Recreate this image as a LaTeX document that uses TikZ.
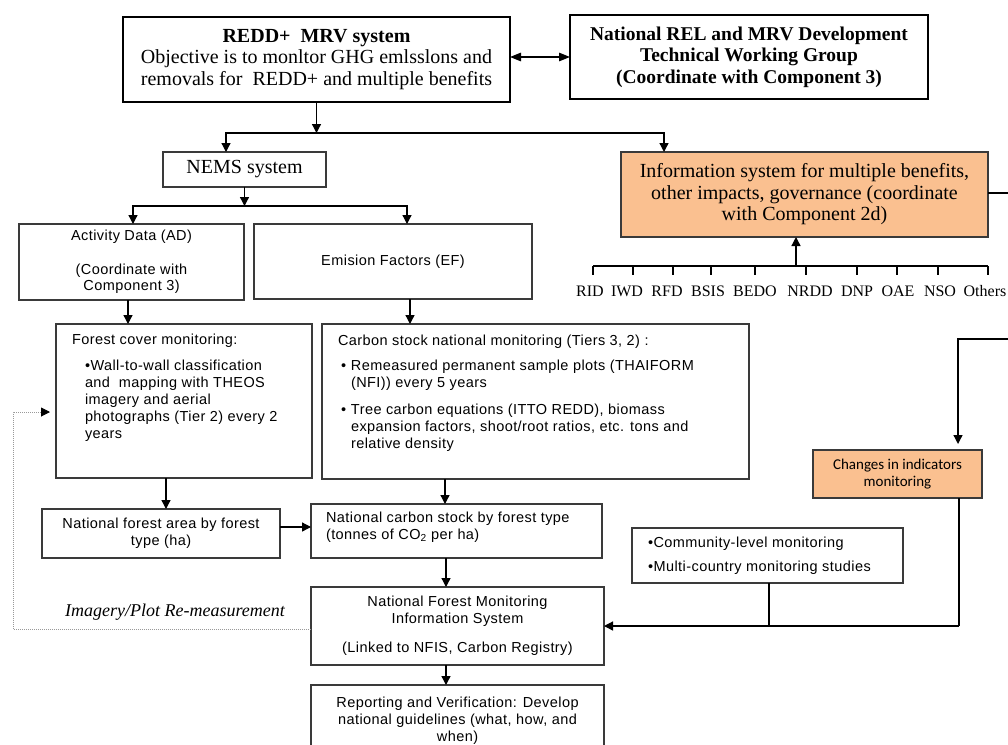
\documentclass[tikz,border=0pt]{standalone}
\usepackage{fontspec}
\setmainfont{Liberation Serif}
\newfontfamily\arialf[LetterSpace=3]{Liberation Sans}
\newfontfamily\calf{Carlito}
\usetikzlibrary{arrows.meta}
\definecolor{peach}{HTML}{FAC090}
\definecolor{edge}{HTML}{3A3A3A}

\begin{document}
\begin{tikzpicture}[x=1pt,y=-1pt,
  every node/.style={inner sep=0pt, outer sep=0pt},
  serif/.style={font=\fontsize{20}{21.5}\selectfont},
  seriflab/.style={font=\fontsize{16}{18}\selectfont},
  sans/.style={font=\arialf\fontsize{14.5}{16.8}\selectfont},
  bigbox/.style={draw=black, line width=2.6pt, fill=white},
  box/.style={draw=edge, line width=1.4pt, fill=white},
  hibox/.style={draw=edge, line width=1.4pt, fill=peach},
  arr/.style={draw=black, line width=1.3pt, -{Triangle[length=9pt,width=9pt]}},
  dblarr/.style={draw=black, line width=1.3pt, {Triangle[length=11pt,width=8.5pt]}-{Triangle[length=11pt,width=8.5pt]}},
  conn/.style={draw=black, line width=1.3pt},
  dots/.style={draw=gray!80, line width=1pt, densely dotted, -{Triangle[length=9pt,width=9pt,color=black]}}
]
\useasboundingbox (0,0) rectangle (1008,744);
\clip (0,0) rectangle (1008,744);
\fill[white] (0,0) rectangle (1008,744);

% ---------- top row ----------
\node[bigbox, serif, align=center, minimum width=387pt, minimum height=85pt] (redd) at (316.5,59.5)
  {\textbf{REDD+\ \ MRV system}\\Objective is to monltor GHG emlsslons and\\removals for\ \ REDD+ and multiple benefits};
\node[bigbox, serif, font=\bfseries\fontsize{19.5}{21.5}\selectfont, align=center, minimum width=358pt, minimum height=84pt] (rel) at (749,57)
  {National REL and MRV Development\\Technical Working Group\\(Coordinate with Component 3)};

% ---------- second row ----------
\node[box, serif, minimum width=163pt, minimum height=35pt] (nems) at (244.5,169.5) {NEMS system};
\node[hibox, serif, align=center, minimum width=367pt, minimum height=85pt] (info) at (804.5,194.5)
  {Information system for multiple benefits,\\other impacts, governance (coordinate\\with Component 2d)};

% ---------- AD / EF ----------
\node[box, sans, align=center, minimum width=225pt, minimum height=76pt] (ad) at (131.5,262)
  {Activity Data (AD)\\[16.8pt](Coordinate with\\Component 3)};
\node[box, sans, minimum width=278pt, minimum height=75pt] (ef) at (393,261.5) {Emision Factors (EF)};

% ---------- monitoring boxes ----------
\node[box, minimum width=256pt, minimum height=154pt] (fcm) at (184,401) {};
\node[sans, align=left, anchor=north west] (fcmt) at (72,333.5)
  {Forest cover monitoring:\\[10pt]
   \hspace*{13pt}•Wall-to-wall classification\\
   \hspace*{13pt}and\ \ mapping with THEOS\\
   \hspace*{13pt}imagery and aerial\\
   \hspace*{13pt}photographs (Tier 2) every 2\\
   \hspace*{13pt}years};
\node[box, minimum width=427pt, minimum height=155pt] (csm) at (535.5,401.5) {};
\node[sans, align=left, anchor=north west] (csmt) at (338,334.5)
  {Carbon stock national monitoring (Tiers 3, 2) :\\[9pt]
   \hspace*{3pt}\makebox[10pt][l]{•}Remeasured permanent sample plots (THAIFORM\\
   \hspace*{13pt}(NFI)) every 5 years\\[10pt]
   \hspace*{3pt}\makebox[10pt][l]{•}Tree carbon equations (ITTO REDD), biomass\\
   \hspace*{13pt}expansion factors, shoot/root ratios, etc. tons and\\
   \hspace*{13pt}relative density};

% ---------- national results ----------
\node[box, sans, align=center, minimum width=238pt, minimum height=49pt] (nfa) at (161,533.5)
  {National forest area by forest\\type (ha)};
\node[box, minimum width=291pt, minimum height=54pt] (ncs) at (456.5,531) {};
\node[sans, align=left, anchor=north west] (ncst) at (326,512)
  {National carbon stock by forest type\\(tonnes of CO\textsubscript{2} per ha)};
\node[box, sans, align=center, minimum width=293pt, minimum height=78pt] (nfmis) at (457.5,626)
  {National Forest Monitoring\\Information System\\[12pt](Linked to NFIS, Carbon Registry)};
\node[box, minimum width=293pt, minimum height=80pt] (rep) at (457.5,725) {};
\node[sans, align=center, anchor=north] (rept) at (457.5,697)
  {Reporting and Verification: Develop\\national guidelines (what, how, and\\when)};

% ---------- right column ----------
\node[hibox, align=center, font=\calf\fontsize{15}{17}\selectfont, minimum width=169pt, minimum height=48pt] (chg) at (897.5,474)
  {Changes in indicators\\monitoring};
\node[box, minimum width=271pt, minimum height=55pt] (com) at (767.5,555.5) {};
\node[sans, align=left, anchor=north west] (comt) at (648,536.5)
  {•Community-level monitoring\\[8pt]•Multi-country monitoring studies};

% ---------- agency scale ----------
\foreach \x/\t in {590/RID,627/IWD,667/RFD,708/BSIS,755/BEDO,810/NRDD,857/DNP,898/OAE,940/NSO,985/Others}
  \node[seriflab, anchor=base] (lab\t) at (\x,296) {\t};
\coordinate (t0) at (593,266);
\coordinate (t1) at (988,266);
\draw[conn] (t0) -- (t1);
\foreach \x in {593,633,673,711,755,806,857,897,938,988}
  \draw[conn] (\x,266) -- (\x,275);
\coordinate (tu) at (796,266);
\draw[arr] (tu) -- (tu |- info.south);

% ---------- connectors ----------
\draw[dblarr] (rel.west -| redd.east) -- (rel.west);

\coordinate (j1) at (316.5,133);
\draw[arr] (redd.south) -- (j1);
\coordinate (n1) at ([xshift=-18.5pt]nems.north);
\coordinate (i1) at ([xshift=-140.5pt]info.north);
\draw[arr] (j1) -| (n1);
\draw[arr] (j1) -| (i1);

\coordinate (j2) at (244.5,206);
\draw[arr] (nems.south) -- (j2);
\coordinate (a0) at ([xshift=1.5pt]ad.north);
\coordinate (e0) at ([xshift=14pt]ef.north);
\draw[arr] (j2) -| (a0);
\draw[arr] (j2) -| (e0);

\coordinate (a1) at ([xshift=-3.5pt]ad.south);
\draw[arr] (a1) -- (a1 |- fcm.north);
\coordinate (e1) at ([xshift=17pt]ef.south);
\draw[arr] (e1) -- (e1 |- csm.north);

\coordinate (f1) at ([xshift=-18pt]fcm.south);
\draw[arr] (f1) -- (f1 |- nfa.north);
\coordinate (c0) at ([xshift=-90.5pt]csm.south);
\draw[arr] (c0) -- (c0 |- ncs.north);

\coordinate (f2) at ([yshift=6.5pt]nfa.east);
\draw[arr] (f2) -- (f2 -| ncs.west);

\coordinate (s1) at ([xshift=-10.5pt]ncs.south);
\draw[arr] (s1) -- (s1 |- nfmis.north);
\coordinate (s2) at ([xshift=-11.5pt]nfmis.south);
\draw[arr] (s2) -- (s2 |- rep.north);

% links on the right edge
\coordinate (r1) at (1015,193);
\draw[conn] (info.east |- r1) -- (r1);
\coordinate (r2) at (1015,339);
\coordinate (g0) at ([xshift=60.5pt]chg.north);
\draw[arr] (r2) -| ([yshift=6pt]g0);
\coordinate (g1) at ([xshift=61.5pt]chg.south);
\coordinate (g2) at (g1 |- nfmis.east);
\draw[conn] (g1) -- (g2);
\draw[arr] (g2) -- (nfmis.east);
\coordinate (k1) at ([xshift=1.5pt]com.south);
\draw[conn] (k1) -- (k1 |- nfmis.east);

% re-measurement feedback loop
\coordinate (d0) at ([yshift=-3pt]nfmis.west);
\coordinate (dx) at (13,412);
\draw[dots, shorten >=6pt] (d0) -- (d0 -| dx) -- (dx) -- (dx -| fcm.west);
\node[font=\itshape\fontsize{18}{20}\selectfont] (remeas) at (175,612) {Imagery/Plot Re-measurement};
\end{tikzpicture}
\end{document}
